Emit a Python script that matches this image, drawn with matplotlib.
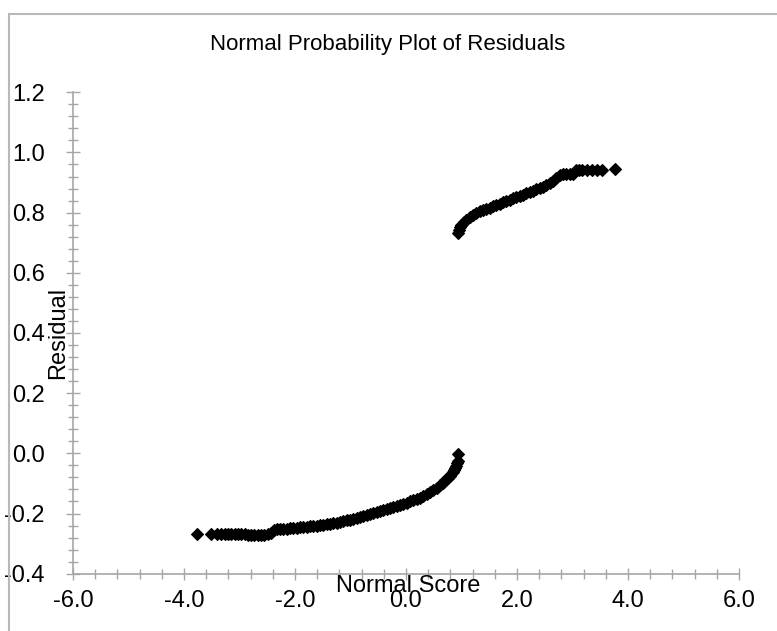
import matplotlib
matplotlib.use("Agg")
import matplotlib.pyplot as plt
from matplotlib.patches import Rectangle
from matplotlib.ticker import MultipleLocator, FormatStrFormatter

plt.rcParams['font.family'] = ['Liberation Sans', 'DejaVu Sans']

# lower branch of residuals (normal score, residual)
low_x = [-3.76, -3.52, -3.41, -3.33, -3.27, -3.21, -3.15, -3.09, -3.03, -2.97,
         -2.91, -2.85, -2.79, -2.73, -2.67, -2.61, -2.55, -2.49, -2.43, -2.38,
         -2.33, -2.27, -2.21, -2.15, -2.09, -2.03, -1.97, -1.91, -1.85, -1.79,
         -1.73, -1.67, -1.61, -1.55, -1.49, -1.43, -1.37, -1.31, -1.25, -1.19,
         -1.13, -1.07, -1.01, -0.95, -0.89, -0.83, -0.77, -0.71, -0.65, -0.59,
         -0.53, -0.47, -0.41, -0.35, -0.29, -0.23, -0.17, -0.11, -0.05, 0.01,
         0.07, 0.13, 0.19, 0.25, 0.31, 0.37, 0.43, 0.49, 0.55, 0.61,
         0.66, 0.71, 0.75, 0.79, 0.82, 0.85, 0.87, 0.89, 0.91, 0.925,
         0.93, 0.94]
low_y = [-0.268, -0.268, -0.268, -0.268, -0.268, -0.268, -0.269, -0.269, -0.269, -0.269,
         -0.269, -0.270, -0.270, -0.270, -0.270, -0.270, -0.270, -0.269, -0.266, -0.256,
         -0.253, -0.252, -0.251, -0.250, -0.249, -0.248, -0.247, -0.246, -0.245, -0.244,
         -0.243, -0.241, -0.240, -0.239, -0.237, -0.236, -0.234, -0.232, -0.230, -0.228,
         -0.225, -0.223, -0.220, -0.217, -0.214, -0.211, -0.208, -0.205, -0.202, -0.199,
         -0.196, -0.193, -0.189, -0.185, -0.182, -0.178, -0.175, -0.171, -0.168, -0.164,
         -0.160, -0.156, -0.151, -0.147, -0.142, -0.136, -0.129, -0.122, -0.114, -0.105,
         -0.097, -0.089, -0.082, -0.076, -0.069, -0.062, -0.055, -0.048, -0.041, -0.032,
         -0.027, -0.003]

# upper branch
high_x = [0.94, 0.95, 0.97, 1.00, 1.04, 1.09, 1.15, 1.21, 1.27, 1.33,
          1.39, 1.45, 1.51, 1.57, 1.63, 1.69, 1.75, 1.81, 1.87, 1.93,
          1.99, 2.05, 2.11, 2.17, 2.23, 2.29, 2.35, 2.41, 2.47, 2.53,
          2.59, 2.65, 2.71, 2.77, 2.83, 2.89, 2.95, 3.01, 3.06, 3.11,
          3.17, 3.26, 3.35, 3.44, 3.53, 3.77]
high_y = [0.731, 0.742, 0.752, 0.760, 0.768, 0.776, 0.785, 0.793, 0.799, 0.804,
          0.809, 0.813, 0.817, 0.821, 0.825, 0.830, 0.835, 0.839, 0.843, 0.847,
          0.851, 0.856, 0.860, 0.864, 0.868, 0.872, 0.877, 0.881, 0.886, 0.892,
          0.899, 0.906, 0.915, 0.925, 0.928, 0.928, 0.928, 0.929, 0.940, 0.941,
          0.942, 0.942, 0.942, 0.942, 0.942, 0.945]

fig = plt.figure(figsize=(7.77, 6.31), dpi=100)
ax = fig.add_axes([0.094, 0.0908, 0.857, 0.763])

ax.plot(low_x, low_y, 'D', color='black', ms=6.5, mec='black', mew=0.8, linestyle='none')
ax.plot(high_x, high_y, 'D', color='black', ms=6.5, mec='black', mew=0.8, linestyle='none')

ax.set_xlim(-6, 6)
ax.set_ylim(-0.4, 1.2)
ax.xaxis.set_major_locator(MultipleLocator(2))
ax.xaxis.set_minor_locator(MultipleLocator(0.4))
ax.yaxis.set_major_locator(MultipleLocator(0.2))
ax.yaxis.set_minor_locator(MultipleLocator(0.04))
ax.xaxis.set_major_formatter(FormatStrFormatter('%.1f'))
ax.yaxis.set_major_formatter(FormatStrFormatter('%.1f'))

gray = '#a6a6a6'
for s in ['top', 'right']:
    ax.spines[s].set_visible(False)
for s in ['left', 'bottom']:
    ax.spines[s].set_color(gray)
    ax.spines[s].set_linewidth(1.2)

ax.tick_params(axis='both', which='both', direction='inout', color=gray, width=1,
               labelsize=17)
ax.tick_params(axis='y', which='major', length=10.5, pad=15)
ax.tick_params(axis='y', which='minor', length=7)
ax.tick_params(axis='x', which='major', length=9, pad=7)
ax.tick_params(axis='x', which='minor', length=7)

ax.set_ylabel('Residual', fontsize=17, va='center')
ax.yaxis.set_label_coords(-0.0225, 0.5)
ax.set_xlabel('Normal Score', fontsize=17, va='center')
ax.xaxis.set_label_coords(0.503, -0.0256)

fig.text(0.4994, 0.9287, 'Normal Probability Plot of Residuals', fontsize=16,
         ha='center', va='center')

# outer chart frame
fig.patches.append(Rectangle((8.5 / 777, -0.1), 2, (631 - 13.5) / 631 + 0.1,
                             transform=fig.transFigure, fill=False,
                             edgecolor='#b8b8b8', linewidth=1.5))

fig.savefig('out.png', dpi=100, facecolor='white')
